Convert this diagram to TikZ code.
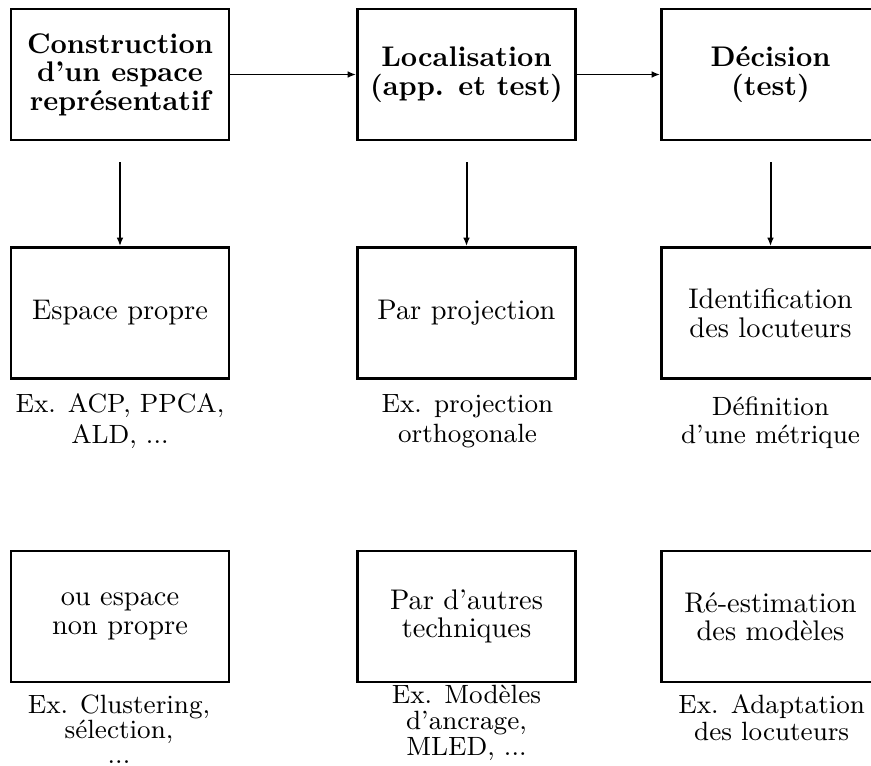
\documentclass[tikz,border=0pt]{standalone}
\usetikzlibrary{arrows.meta}
\begin{document}
\begin{tikzpicture}[x=0.3522pt,y=-0.3522pt,
  box/.style={draw,line width=1pt,minimum width=76.8pt,minimum height=46.1pt,inner sep=0pt,align=center,font=\fontsize{10}{10}\selectfont},
  title/.style={box,font=\bfseries\fontsize{10}{10}\selectfont},
  cap/.style={anchor=north,inner sep=0pt,align=center,font=\fontsize{9.3}{#1}\selectfont},
  arr/.style={-{Latex[length=3pt,width=2.4pt]},line width=0.7pt}]
\clip (0,0) rectangle (871,765);
% row 1
\node[title] (b11) at (120,74.5) {Construction\\d'un espace\\représentatif};
\node[title] (b12) at (466.5,74.5) {Localisation\\(app. et test)};
\node[title] (b13) at (770.5,74.5) {Décision\\(test)};
% row 2
\node[box] (b21) at (120,313) {Espace propre};
\node[box] (b22) at (466.5,313) {Par projection};
\node[box] (b23) at (770.5,313) {Identification\\des locuteurs};
% row 3
\node[box] (b31) at (120,616.5) {ou espace\\non propre};
\node[box] (b32) at (466.5,616.5) {Par d'autres\\techniques};
\node[box] (b33) at (770.5,616.5) {Ré-estimation\\des modèles};
% captions
\node[cap=10.9pt] (c21) at (120,393.5) {Ex. ACP, PPCA,\\ALD, ...};
\node[cap=10.9pt] (c22) at (467.5,393.5) {Ex. projection\\orthogonale};
\node[cap=9.8pt] (c23) at (770.5,396.5) {Définition\\d'une métrique};
\node[cap=8.8pt] (c31) at (119,694.5) {Ex. Clustering,\\sélection,\\...};
\node[cap=9.1pt] (c32) at (466.5,684.5) {Ex. Modèles\\d'ancrage,\\MLED, ...};
\node[cap=9.5pt] (c33) at (771.7,694.5) {Ex. Adaptation\\des locuteurs};
% arrows
\coordinate (s1) at (120,162);
\coordinate (s2) at (466.5,162);
\coordinate (s3) at (770.5,162);
\draw[arr] (b11) -- (b12);
\draw[arr] (b12) -- (b13);
\draw[arr] (s1) -- (b21);
\draw[arr] (s2) -- (b22);
\draw[arr] (s3) -- (b23);
\end{tikzpicture}
\end{document}
